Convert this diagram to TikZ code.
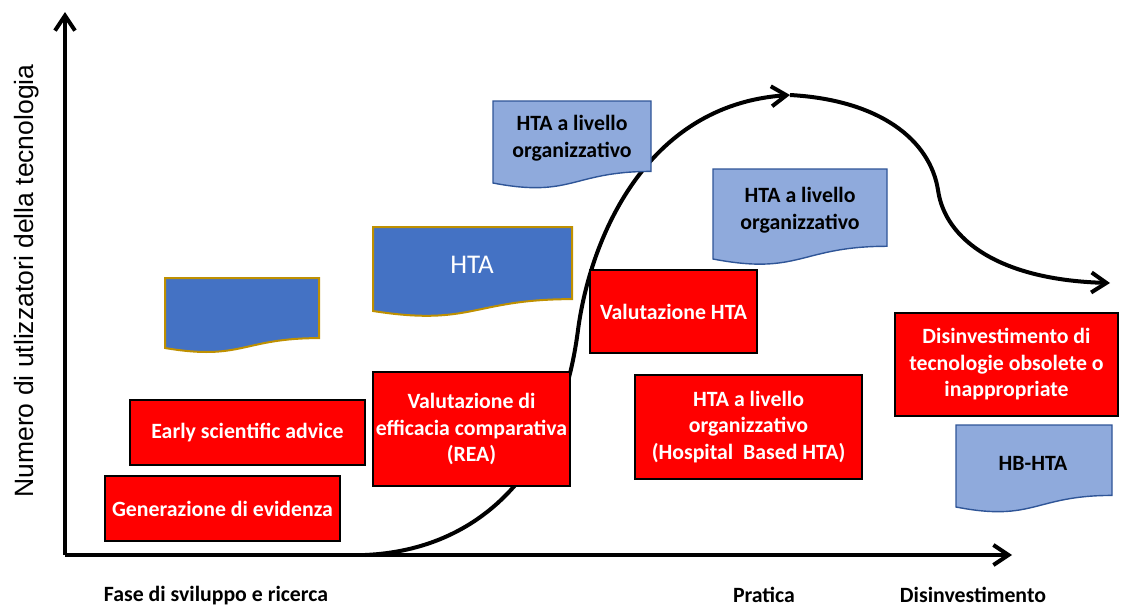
\documentclass[tikz,border=0pt]{standalone}
\usepackage{fontspec}
\setmainfont{Carlito}
\newfontfamily\axisfont{Liberation Sans}
\usetikzlibrary{arrows.meta,positioning}

\definecolor{docblue}{HTML}{4472C4}
\definecolor{docgold}{HTML}{BF9000}
\definecolor{lightdoc}{HTML}{8FAADC}
\definecolor{lightedge}{HTML}{2F5597}

\tikzset{
    redbox/.style={draw=black, fill=red, line width=1.6pt, text=white, align=center,
        font=\bfseries\fontsize{21.8}{26.5}\selectfont, inner sep=0pt},
    darkdoc/.style={draw=docgold, fill=docblue, line width=2pt},
    lightdocbox/.style={draw=lightedge, fill=lightdoc, line width=1.4pt},
    doclabel/.style={align=center, font=\bfseries\fontsize{21.8}{26.5}\selectfont},
    phase/.style={font=\bfseries\fontsize{21.8}{24}\selectfont},
    bigarrow/.style={line width=4pt, -{Straight Barb[length=15pt,width=20pt]}},
}

% document shape: style, x0, y0 (top), x1, y1 (bottom left)
\newcommand{\docshape}[5]{%
    \draw[#1] (#2,#3) -- (#4,#3) -- (#4,{#3+0.8587*(#5-#3)})
        .. controls ({(#2+#4)/2},{#3+0.8587*(#5-#3)}) and ({(#2+#4)/2},{#3+1.1858*(#5-#3)}) .. (#2,#5) -- cycle;}

\begin{document}
\begin{tikzpicture}[x=1pt, y=-1pt]
    \useasboundingbox (0,0) rectangle (1122,608);

    % axes
    \coordinate (origin) at (65,555);
    \coordinate (ytop) at (65,12);
    \coordinate (xend) at (1012,555);
    \draw [bigarrow] (origin) -- (ytop);
    \draw [bigarrow] (origin) -- (xend);
    \node [rotate=90, font=\axisfont\fontsize{26.5}{30}\selectfont] (ylabel) at (27,281) {Numero di utlizzatori della tecnologia};

    % adoption curve
    \coordinate (start) at (365,555);
    \coordinate (peak) at (790,95);
    \coordinate (tail) at (1110,283);
    \draw [bigarrow] (start) .. controls (480,550) and (560,470) .. (578,330)
        .. controls (590,240) and (645,105) .. (peak);
    \draw [bigarrow] (peak) .. controls (880,100) and (930,140) .. (938,190)
        .. controls (945,240) and (1000,280) .. (tail);

    % documents
    \docshape{darkdoc}{165}{278}{319}{348}
    \docshape{darkdoc}{373}{227}{572}{311}
    \node [text=white, font=\fontsize{27}{30}\selectfont] (hta) at (472,265) {HTA};
    \docshape{lightdocbox}{493}{101}{651}{183}
    \node [doclabel] (orgA) at (572,138) {HTA a livello\\organizzativo};
    \docshape{lightdocbox}{713}{169}{887}{259}
    \node [doclabel] (orgB) at (800,210) {HTA a livello\\organizzativo};
    \docshape{lightdocbox}{956}{425}{1112}{507}
    \node [doclabel] (hbhta) at (1033,463) {HB-HTA};

    % red boxes
    \node [redbox, minimum width=235pt, minimum height=65pt] (evid) at (222.5,508.5) {Generazione di evidenza};
    \node [redbox, minimum width=235pt, minimum height=65pt] (advice) at (247.5,432.5) {Early scientific advice};
    \node [redbox, minimum width=197pt, minimum height=114pt] (rea) at (471.5,429) {Valutazione di\\efficacia comparativa\\(REA)};
    \node [redbox, minimum width=167pt, minimum height=83pt] (valhta) at (673.5,311.5) {Valutazione HTA};
    \node [redbox, minimum width=227pt, minimum height=104pt] (hbased) at (748.5,427) {HTA a livello\\organizzativo\\(Hospital~ Based HTA)};
    \node [redbox, minimum width=223pt, minimum height=103pt] (disinv) at (1006.5,364.5) {Disinvestimento di\\tecnologie obsolete o\\inappropriate};

    % phases
    \node [phase] (fase) at (216,596) {Fase di sviluppo e ricerca};
    \node [phase] (pratica) at (764,595) {Pratica};
    \node [phase] (disin) at (973,595) {Disinvestimento};
\end{tikzpicture}
\end{document}
